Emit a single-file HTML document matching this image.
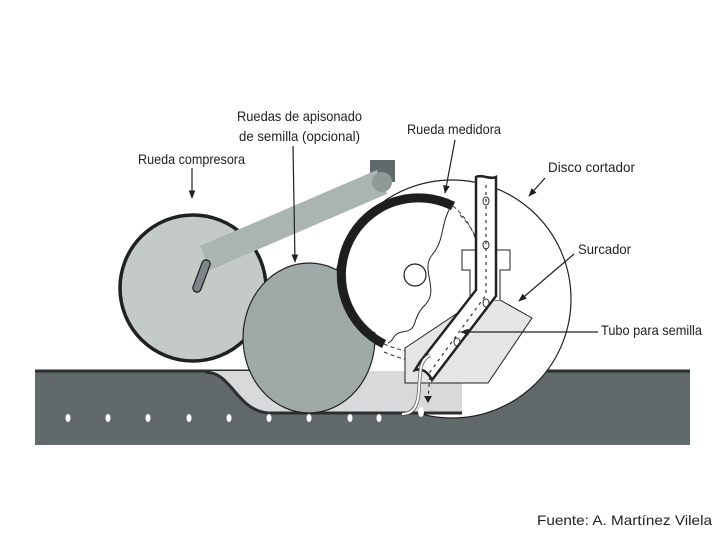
<!DOCTYPE html>
<html><head><meta charset="utf-8"><style>
html,body{margin:0;padding:0;background:#fff;width:720px;height:540px;overflow:hidden}
svg{display:block}
text{font-family:"Liberation Sans",sans-serif;font-size:14px;fill:#222}
</style></head><body>
<svg width="720" height="540" viewBox="0 0 720 540" xmlns="http://www.w3.org/2000/svg">
<defs>
<marker id="ah" viewBox="0 0 10 10" refX="9" refY="5" markerWidth="7" markerHeight="7" orient="auto"><path d="M0,1 L10,5 L0,9 z" fill="#222"/></marker>
</defs>
<!-- ground -->
<rect x="35" y="370" width="655" height="75" fill="#62696b"/>
<line x1="35" y1="371" x2="690" y2="371" stroke="#2b2f30" stroke-width="3"/>
<!-- disc -->
<circle cx="452" cy="299" r="119" fill="#fff" stroke="#222" stroke-width="1.2"/>
<!-- furrow -->
<path d="M205,372 C232,372 236,410 268,413 L462,413 L462,371 L205,371 z" fill="#d7d9db"/>
<path d="M205,372 C232,372 236,410 268,413 L462,413" fill="none" stroke="#2b2f30" stroke-width="3"/>
<!-- seeds -->
<g fill="#fff">
<ellipse cx="68" cy="418" rx="2.5" ry="4"/><ellipse cx="108" cy="418" rx="2.5" ry="4"/><ellipse cx="148" cy="418" rx="2.5" ry="4"/><ellipse cx="189" cy="418" rx="2.5" ry="4"/><ellipse cx="229" cy="418" rx="2.5" ry="4"/><ellipse cx="269" cy="418" rx="2.5" ry="4"/><ellipse cx="309" cy="418" rx="2.5" ry="4"/><ellipse cx="350" cy="418" rx="2.5" ry="4"/><ellipse cx="379" cy="418" rx="2.5" ry="4"/><ellipse cx="421" cy="412" rx="3" ry="5"/>
</g>
<!-- compresora wheel -->
<circle cx="193" cy="288" r="73" fill="#c4cac8" stroke="#1e2222" stroke-width="3.5"/>
<!-- arm -->
<rect x="370" y="160" width="25" height="22" fill="#62696b"/>
<line x1="205" y1="258" x2="382" y2="182" stroke="#a9b4b3" stroke-width="26"/>
<circle cx="382" cy="182" r="10" fill="#8e9998"/>
<line x1="197" y1="288" x2="206" y2="264" stroke="#1e2222" stroke-width="9.5" stroke-linecap="round"/>
<line x1="197" y1="288" x2="206" y2="264" stroke="#7c8587" stroke-width="7" stroke-linecap="round"/>
<!-- apisonado wheel -->
<ellipse cx="309" cy="338" rx="66" ry="75" fill="#9fa9a7" stroke="#222" stroke-width="1.2"/>
<!-- metering wheel -->
<circle cx="417" cy="275" r="71" fill="#fff"/>
<path d="M453,206 A71,71 0 1 0 384,344" fill="none" stroke="#1e1e1e" stroke-width="9"/>
<path d="M453,206 A75,75 0 0 1 470,300" fill="none" stroke="#333" stroke-width="1" stroke-dasharray="4,3"/>
<path d="M460,215 A75,75 0 0 1 478,295" fill="none" stroke="#333" stroke-width="1" stroke-dasharray="4,3"/>
<path d="M384,344 Q420,360 470,350" fill="none" stroke="#333" stroke-width="1" stroke-dasharray="4,3"/>
<path d="M384,352 Q420,368 470,360" fill="none" stroke="#333" stroke-width="1" stroke-dasharray="4,3"/>
<path d="M451,206 C440,225 445,240 432,255 C420,270 440,290 425,305 C410,320 420,330 402,332 C392,334 395,340 388,343" fill="none" stroke="#222" stroke-width="1"/>
<circle cx="415" cy="275" r="11" fill="#fff" stroke="#222" stroke-width="1.2"/>
<!-- opener -->
<path d="M405,348 L465,308 L470,300 L500,300 L532,318 L488,383 L405,383 z" fill="#e3e5e6" stroke="#222" stroke-width="1"/>
<path d="M470,300 L470,270 L462,270 L462,250 L510,250 L510,270 L500,270 L500,300" fill="#fff" stroke="#222" stroke-width="1"/>
<!-- tube -->
<path d="M476,177 L476,290 L420,362 L415,370 C422,368 428,372 432,380 L496,296 L496,177 C490,180 482,174 476,177 z" fill="#fff" stroke="#222" stroke-width="2.5"/>
<path d="M486,185 L486,295 L430,372 L428,400" fill="none" stroke="#333" stroke-width="1.2" stroke-dasharray="3,4"/>
<path d="M424,396 L432,396 L428,403 z" fill="#222"/>
<g fill="none" stroke="#333" stroke-width="1"><ellipse cx="486" cy="201" rx="3" ry="4"/><ellipse cx="486" cy="245" rx="3" ry="4"/><ellipse cx="486" cy="303" rx="3" ry="4"/><ellipse cx="457" cy="342" rx="3" ry="4"/></g>
<!-- white tube line -->
<path d="M402,414 C414,414 418,405 419,390 C420,370 420,360 430,355" fill="none" stroke="#555" stroke-width="3.5"/>
<path d="M402,414 C414,414 418,405 419,390 C420,370 420,360 430,355" fill="none" stroke="#fff" stroke-width="2"/>
<!-- arrows -->
<g stroke="#222" stroke-width="1.2" marker-end="url(#ah)">
<line x1="192" y1="168" x2="192" y2="198"/>
<line x1="293" y1="146" x2="295" y2="262"/>
<line x1="455" y1="140" x2="445" y2="193"/>
<line x1="545" y1="178" x2="529" y2="196"/>
<line x1="574" y1="254" x2="519" y2="301"/>
<line x1="598" y1="332" x2="461" y2="332"/>
</g>
<!-- labels -->
<text x="138" y="164" textLength="107" lengthAdjust="spacingAndGlyphs">Rueda compresora</text>
<text x="237" y="121" textLength="125" lengthAdjust="spacingAndGlyphs">Ruedas de apisonado</text>
<text x="239" y="141" textLength="121" lengthAdjust="spacingAndGlyphs">de semilla (opcional)</text>
<text x="407" y="134" textLength="94" lengthAdjust="spacingAndGlyphs">Rueda medidora</text>
<text x="548" y="172" textLength="87" lengthAdjust="spacingAndGlyphs">Disco cortador</text>
<text x="578" y="254" textLength="53" lengthAdjust="spacingAndGlyphs">Surcador</text>
<text x="601" y="335" textLength="101" lengthAdjust="spacingAndGlyphs">Tubo para semilla</text>
<text x="537" y="525" textLength="175" lengthAdjust="spacingAndGlyphs">Fuente: A. Martínez Vilela</text>
</svg>
</body></html>
